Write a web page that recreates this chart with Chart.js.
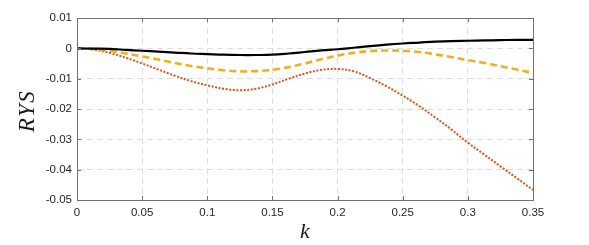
<!DOCTYPE html>
<html>
<head>
<meta charset="utf-8">
<script src="https://cdn.jsdelivr.net/npm/chart.js"></script>
<style>
  body { margin:0; background:#fff; }
  #wrap { width:589px; height:245px; }
</style>
</head>
<body>
<div id="wrap"><canvas id="myChart" width="589" height="245"></canvas></div>
<script>
// values
const kValues = [0, 0.0125, 0.025, 0.0375, 0.05, 0.0625, 0.075, 0.0875, 0.1, 0.1125, 0.125, 0.1375, 0.15, 0.1625, 0.175,
  0.1875, 0.2, 0.2125, 0.225, 0.2375, 0.25, 0.2625, 0.275, 0.2875, 0.3, 0.3125, 0.325, 0.3375, 0.35];
const solidRYS = [0, -0.0001, -0.0002, -0.0005, -0.0008, -0.0011, -0.0014, -0.0017, -0.0019, -0.0021, -0.0022, -0.0022, -0.0021, -0.0017, -0.0012,
  -0.0007, -0.0003, 0.0002, 0.0007, 0.0012, 0.0016, 0.0019, 0.0022, 0.0024, 0.0025, 0.0026, 0.0027, 0.0028, 0.0028];
const dashedRYS = [0, -0.0002, -0.0008, -0.0017, -0.0027, -0.0037, -0.0048, -0.0058, -0.0066, -0.0072, -0.0076, -0.0075, -0.0071, -0.0062, -0.0050,
  -0.0036, -0.0024, -0.0015, -0.0009, -0.0007, -0.0008, -0.0012, -0.0020, -0.0029, -0.0039, -0.0048, -0.0059, -0.0070, -0.0081];
const dottedRYS = [0, -0.0004, -0.0015, -0.0031, -0.0050, -0.0070, -0.0090, -0.0108, -0.0122, -0.0133, -0.0138, -0.0133, -0.0119, -0.0100, -0.0083,
  -0.0071, -0.0068, -0.0076, -0.0098, -0.0125, -0.0156, -0.0190, -0.0228, -0.0268, -0.0311, -0.0350, -0.0389, -0.0428, -0.0467];
const xTicks = [0, 0.05, 0.1, 0.15, 0.2, 0.25, 0.3, 0.35];
const yTicks = [0.01, 0, -0.01, -0.02, -0.03, -0.04, -0.05];

function pts(vals){
  return kValues.map((k,i)=>({x:k, y:vals[i]}));
}
function fmt(v){
  return String(Number(v.toFixed(3)));
}

// box and inward tick marks, like the matlab axes
const boxPlugin = {
  id:'box',
  afterDatasetsDraw(chart){
    const c = chart.ctx, a = chart.chartArea;
    const xs = chart.scales.x, ys = chart.scales.y;
    c.save();
    c.strokeStyle = '#737373';
    c.lineWidth = 1;
    c.beginPath();
    xTicks.forEach(t=>{
      const px = Math.round(xs.getPixelForValue(t)) + 0.5;
      c.moveTo(px, a.bottom); c.lineTo(px, a.bottom - 4);
      c.moveTo(px, a.top); c.lineTo(px, a.top + 4);
    });
    yTicks.forEach(t=>{
      const py = Math.round(ys.getPixelForValue(t)) + 0.5;
      c.moveTo(a.left, py); c.lineTo(a.left + 4, py);
      c.moveTo(a.right, py); c.lineTo(a.right - 4, py);
    });
    c.stroke();
    c.strokeRect(Math.round(a.left)+0.5, Math.round(a.top)+0.5, Math.round(a.right-a.left), Math.round(a.bottom-a.top));
    // axis labels
    c.fillStyle = '#1a1a1a';
    c.font = 'italic 23px "Liberation Serif"';
    c.textAlign = 'center';
    c.textBaseline = 'middle';
    c.save();
    c.translate(28, 111);
    c.rotate(-Math.PI/2);
    c.letterSpacing = '1.5px';
    c.fillText('RYS', 0, 0);
    c.restore();
    c.font = 'italic 22px "Liberation Serif"';
    c.textBaseline = 'alphabetic';
    c.fillText('k', 305, 238);
    c.restore();
  }
};

const ctx = document.getElementById('myChart').getContext('2d');
new Chart(ctx,{
  type:'line',
  data:{
    datasets:[
      {label:'solid', data:pts(solidRYS), borderColor:'#000000', borderWidth:2.2, pointRadius:0, tension:0.4, fill:false},
      {label:'dashed', data:pts(dashedRYS), borderColor:'#EDB120', borderWidth:2.6, borderDash:[7,4], pointRadius:0, tension:0.4, fill:false},
      {label:'dotted', data:pts(dottedRYS), borderColor:'#D95319', borderWidth:2, borderDash:[2,1.6], pointRadius:0, tension:0.4, fill:false}
    ]
  },
  options:{
    responsive:false,
    animation:false,
    layout:{padding:{top:18, right:56, left:0, bottom:0}},
    plugins:{legend:{display:false}, tooltip:{enabled:false}},
    scales:{
      x:{
        type:'linear', min:0, max:0.35,
        afterBuildTicks(s){ s.ticks = xTicks.map(v=>({value:v})); },
        afterFit(s){ s.height = 45; },
        grid:{color:'#dedede', lineWidth:1, drawTicks:false},
        border:{display:false, dash:[6,4]},
        ticks:{padding:6, color:'#262626', font:{family:'"Liberation Sans"', size:11.5}, maxRotation:0, callback:v=>fmt(v)}
      },
      y:{
        type:'linear', min:-0.05, max:0.01,
        afterBuildTicks(s){ s.ticks = yTicks.map(v=>({value:v})); },
        afterFit(s){ s.width = 77; },
        grid:{color:'#dedede', lineWidth:1, drawTicks:false},
        border:{display:false, dash:[6,4]},
        ticks:{padding:5, color:'#262626', font:{family:'"Liberation Sans"', size:11.5}, callback:v=>fmt(v)}
      }
    }
  },
  plugins:[boxPlugin]
});
</script>
</body>
</html>
